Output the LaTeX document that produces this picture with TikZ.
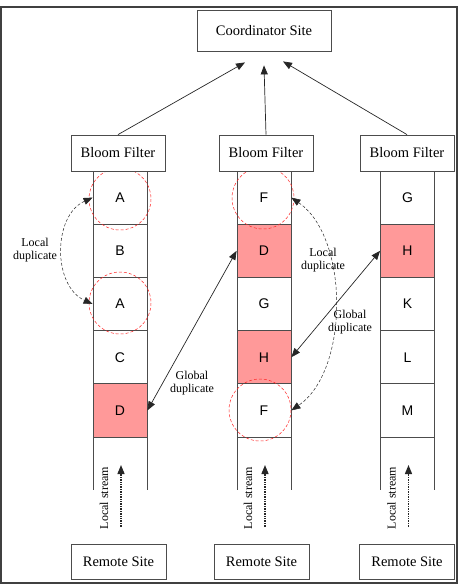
\documentclass[tikz,border=0pt]{standalone}
\usepackage{fontspec}
\setmainfont{Liberation Serif}
\newfontfamily\cellfont{Liberation Sans}
\usetikzlibrary{positioning,arrows.meta,calc}

\definecolor{dupred}{RGB}{255,153,153}
\tikzset{
  box/.style={draw=black!70, line width=0.8pt, fill=white, inner sep=0pt,
    minimum width=94pt, minimum height=36pt, font=\fontsize{14.5}{16}\selectfont},
  cell/.style={draw=black!70, line width=0.8pt, fill=white, inner sep=0pt,
    minimum width=54pt, minimum height=53.2pt, font=\cellfont\fontsize{14}{16}\selectfont},
  dupcell/.style={cell, fill=dupred},
  hit/.style={draw=red!85, densely dashed, line width=0.5pt},
  tip/.style={-{Triangle[length=9pt,width=7pt]}, draw=black!85, line width=0.7pt},
  twotip/.style={{Triangle[length=9pt,width=7pt]}-{Triangle[length=9pt,width=7pt]}, draw=black!85, line width=0.7pt},
  localdup/.style={twotip, densely dashed, line width=0.5pt},
  note/.style={align=center, inner sep=0pt, font=\fontsize{12}{13.5}\selectfont}
}

\begin{document}
\begin{tikzpicture}[x=1pt, y=-1pt]
  \useasboundingbox (0,0) rectangle (463,587);
  \def\cellh{53.2} % height of one cell
  \def\ytop{171}   % top of the columns
  \draw[black!75, line width=2pt] (1,7) rectangle (457,583);
  % the three columns
  \foreach \x in {120,264,407.5} {
    \draw[black!70, line width=0.8pt] (\x-27,\ytop) -- (\x-27,490);
    \draw[black!70, line width=0.8pt] (\x+27,\ytop) -- (\x+27,490);
  }
  \foreach \lab/\sty [count=\i] in {A/cell,B/cell,A/cell,C/cell,D/dupcell}
    \node[\sty] (l\i) at (120,{\ytop+(\i-0.5)*\cellh}) {\lab};
  \foreach \lab/\sty [count=\i] in {F/cell,D/dupcell,G/cell,H/dupcell,F/cell}
    \node[\sty] (m\i) at (264,{\ytop+(\i-0.5)*\cellh}) {\lab};
  \foreach \lab/\sty [count=\i] in {G/cell,H/dupcell,K/cell,L/cell,M/cell}
    \node[\sty] (r\i) at (407.5,{\ytop+(\i-0.5)*\cellh}) {\lab};
  % duplicates seen by the sites
  \draw[hit] (120,199) circle (31);
  \draw[hit] (120,303) circle (31);
  \draw[hit] (263,198) circle (31);
  \draw[hit] (260,410) circle (31);
  % boxes
  \node[box, minimum width=134pt, minimum height=41pt] (coord) at (264,30.5) {Coordinator Site};
  \node[box] (bf1) at (118,153) {Bloom Filter};
  \node[box] (bf2) at (266,153) {Bloom Filter};
  \node[box] (bf3) at (407,153) {Bloom Filter};
  \node[box, minimum width=95pt, minimum height=35pt] (rs1) at (118.5,561.5) {Remote Site};
  \node[box, minimum width=95pt, minimum height=35pt] (rs2) at (261.5,561.5) {Remote Site};
  \node[box, minimum width=95pt, minimum height=35pt] (rs3) at (407,561.5) {Remote Site};
  \draw[tip] (bf1.north) -- ($(coord.south)+(-19,11)$);
  \draw[tip] (bf2.north) -- ($(coord.south)+(0,14)$);
  \draw[tip] (bf3.north) -- ($(coord.south)+(19,10)$);
  % local and global duplicates
  \draw[localdup] (l1.west) .. controls +(-40,18) and +(-40,-18) .. (l3.west);
  \draw[localdup] (m1.east) .. controls +(58,40) and +(58,-40) .. (m5.east);
  \draw[twotip] (l5.east) -- (m2.west);
  \draw[twotip] (m4.east) -- (r2.west);
  \node[note] (ld1) at (35,250) {Local\\duplicate};
  \node[note] (gd1) at (192,383) {Global\\duplicate};
  \node[note] (ld2) at (323,260) {Local\\duplicate};
  \node[note] (gd2) at (350,322) {Global\\duplicate};
  % local streams
  \foreach \n/\x in {1/120,2/264,3/407.5} {
    \node[note, rotate=90] (ls\n) at (\x-16,498) {Local stream};
    \coordinate (sb\n) at (\x+1,527);
    \coordinate (st\n) at (\x+1,465);
    \draw[tip, densely dotted, line width=1.3pt] (sb\n) -- (st\n);
  }
\end{tikzpicture}
\end{document}
